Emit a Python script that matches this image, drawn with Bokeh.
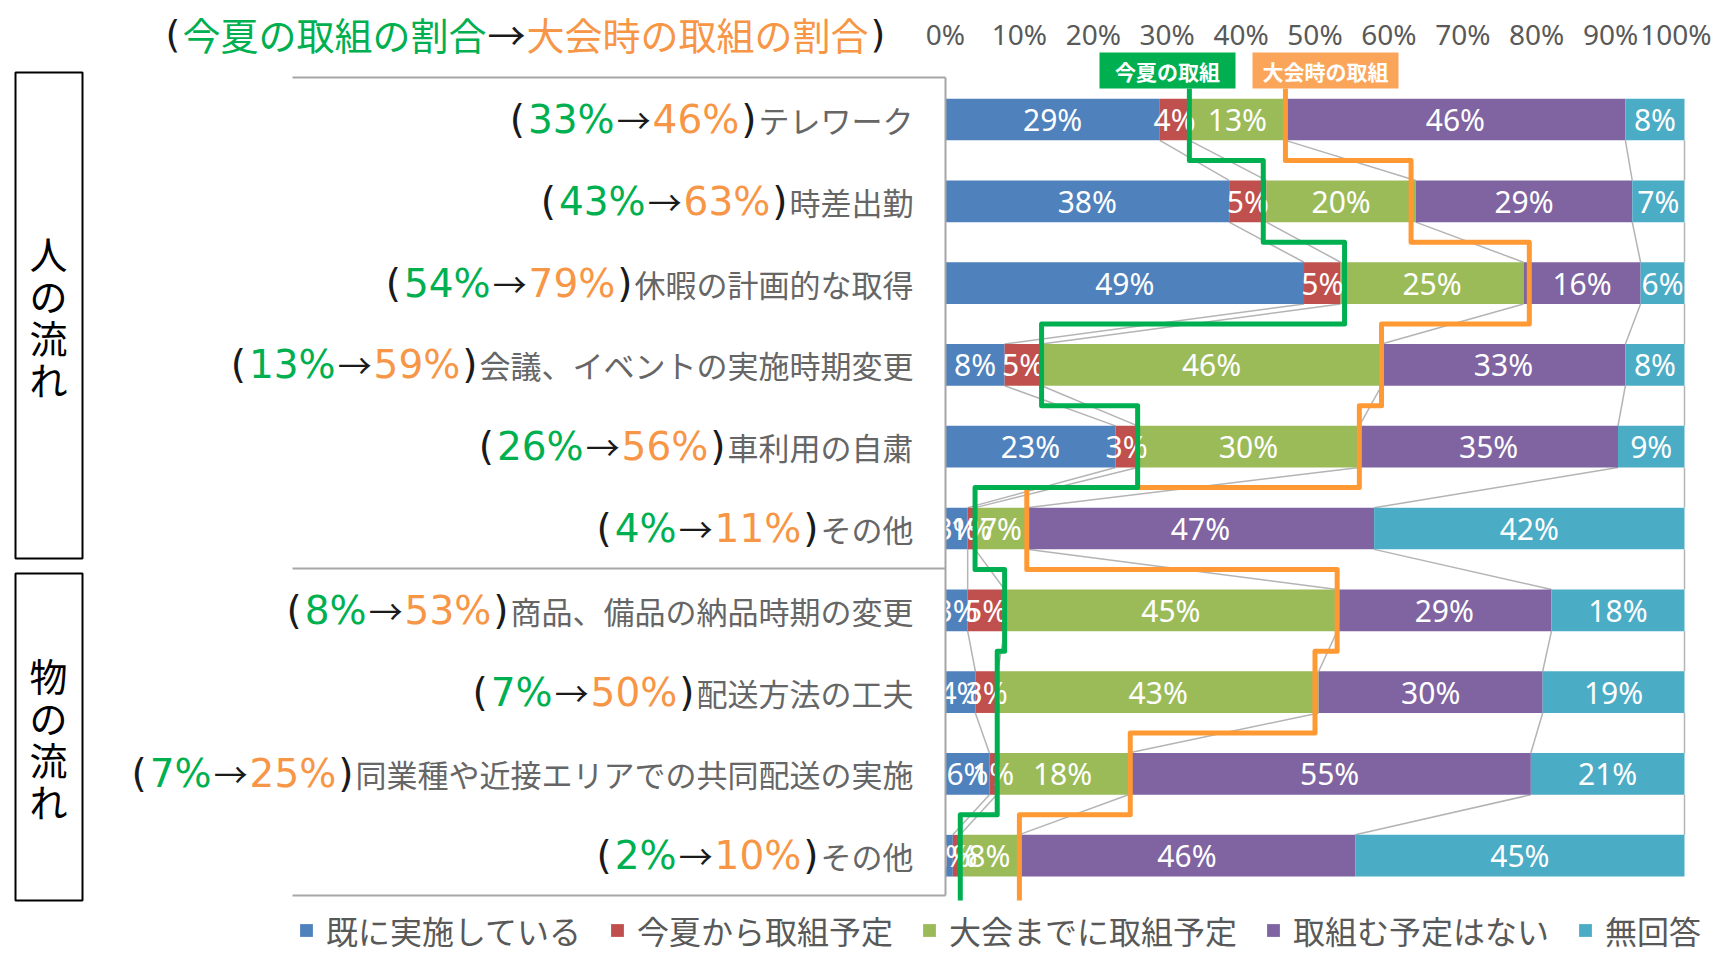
from bokeh.plotting import figure
from bokeh.models import Range1d, ColumnDataSource
from bokeh.core.properties import value
from bokeh.embed import file_html
from bokeh.resources import INLINE

# ---------------- data ----------------
categories = ["テレワーク", "時差出勤", "休暇の計画的な取得", "会議、イベントの実施時期変更",
              "車利用の自粛", "その他", "商品、備品の納品時期の変更", "配送方法の工夫",
              "同業種や近接エリアでの共同配送の実施", "その他"]
already_done = [29, 38, 49, 8, 23, 3, 3, 4, 6, 1]
from_summer = [4, 5, 5, 5, 3, 1, 5, 3, 1, 1]
by_games = [13, 20, 25, 46, 30, 7, 45, 43, 18, 8]
no_plan = [46, 29, 16, 33, 35, 47, 29, 30, 55, 46]
no_answer = [8, 7, 6, 8, 9, 42, 18, 19, 21, 45]
summer_share = [33, 43, 54, 13, 26, 4, 8, 7, 7, 2]
games_share = [46, 63, 79, 59, 56, 11, 53, 50, 25, 10]
series_names = ["既に実施している", "今夏から取組予定", "大会までに取組予定", "取組む予定はない", "無回答"]
series_colors = ["#4F81BD", "#C0504D", "#9BBB59", "#8064A2", "#4BACC6"]
tick_values = [0, 10, 20, 30, 40, 50, 60, 70, 80, 90, 100]
group_names = ["人の流れ", "物の流れ"]
title_parts = ["今夏の取組の割合", "大会時の取組の割合"]
line_names = ["今夏の取組", "大会時の取組"]

# ---------------- layout helpers ----------------
W, H = 1713, 953
PX = 7.39            # pixels per percent
ZERO_PX = 945        # pixel position of 0%
ROW_PX = 81.8        # pixels per row
ROW0_PX = 119        # pixel centre of first row

x_start = -ZERO_PX / PX
x_end = x_start + W / PX


def X(px):
    return x_start + px / PX


def Y(py):
    return (py - ROW0_PX) / ROW_PX


GREEN = "#00B050"
ORANGE_LINE = "#FF9933"
ORANGE_TXT = "#F79646"
GRAY_TXT = "#666666"
DARK = "#1a1a1a"
JP = "Noto Sans CJK JP"

p = figure(width=W, height=H, x_range=Range1d(x_start, x_end),
           y_range=Range1d(Y(H), Y(0)),
           x_axis_location=None, y_axis_location=None,
           toolbar_location=None, output_backend="svg",
           min_border_left=0, min_border_right=0, min_border_bottom=0,
           min_border_top=0, outline_line_color=None,
           background_fill_color="white", border_fill_color="white")
p.grid.visible = False

# percentage scale along the top (last label kept inside the canvas)
TICK_SIZE = 28
tx_c, tt_c, tx_r, tt_r = [], [], [], []
for t in tick_values:
    lab = f"{t}%"
    half = (0.572 * (len(lab) - 1) + 0.84) * TICK_SIZE / 2
    if ZERO_PX + t * PX + half > W - 2:
        tx_r.append(X(W - 2)); tt_r.append(lab)
    else:
        tx_c.append(t); tt_c.append(lab)
for xs, ts, al in [(tx_c, tt_c, "center"), (tx_r, tt_r, "right")]:
    if xs:
        p.text(xs, [Y(33)] * len(xs), text=ts, text_color="#595959",
               text_font=value("Noto Sans"), text_font_size=f"{TICK_SIZE}px",
               text_align=al, text_baseline="middle")

# ---------------- stacked 100% bars ----------------
n = len(categories)
rows = list(range(n))
raw = [already_done, from_summer, by_games, no_plan, no_answer]
keys = ["s0", "s1", "s2", "s3", "s4"]
totals = [sum(r[i] for r in raw) for i in range(n)]
norm = [[r[i] * 100.0 / totals[i] for i in range(n)] for r in raw]
data = {"row": rows}
for k, vals in zip(keys, norm):
    data[k] = vals
src = ColumnDataSource(data)

BAR_H = 0.51

# series lines between bars
cum = []
acc = [0.0] * n
for vals in norm:
    acc = [a + v for a, v in zip(acc, vals)]
    cum.append(acc)
sx0, sy0, sx1, sy1 = [], [], [], []
for c in cum:
    for i in range(n - 1):
        sx0.append(c[i]); sy0.append(i + BAR_H / 2)
        sx1.append(c[i + 1]); sy1.append(i + 1 - BAR_H / 2)
p.segment(sx0, sy0, sx1, sy1, line_color="#B4B4B4", line_width=1.5)

bars = p.hbar_stack(keys, y="row", height=BAR_H, source=src,
                    fill_color=series_colors, line_color=None,
                    legend_label=series_names)

# value labels
lx, ly, lt = [], [], []
left = [0.0] * n
for vals, rvals in zip(norm, raw):
    for i in range(n):
        if rvals[i] > 0:
            lx.append(left[i] + vals[i] / 2)
            ly.append(i)
            lt.append(f"{rvals[i]}%")
    left = [l + v for l, v in zip(left, vals)]
p.text(lx, ly, text=lt, text_color="white", text_font=value("Noto Sans"),
       text_font_size="30px", text_align="center", text_baseline="middle")

# category axis line and group brackets
p.segment([0], [Y(77)], [0], [Y(895)], line_color="#A6A6A6", line_width=2)
for py in (77, 568, 895):
    p.segment([X(292)], [Y(py)], [0], [Y(py)], line_color="#A6A6A6", line_width=2)

# group boxes with vertical text
for (top, bot, cy), name in zip([(72, 558, 315), (573, 900, 737)], group_names):
    p.quad(left=X(15), right=X(82), top=Y(top), bottom=Y(bot),
           fill_color=None, line_color="black", line_width=2)
    m = len(name)
    p.text([X(48)] * m, [Y(cy + (j - (m - 1) / 2) * 42) for j in range(m)],
           text=list(name), text_color="black", text_font=value(JP),
           text_font_size="38px", text_align="center", text_baseline="middle")

# ---------------- row labels ----------------
JP_SIZE = 31
NUM_SIZE = 39
ARROW = 34
RIGHT = 913


def num_w(s):
    return sum(0.95 if ch == "%" else 0.636 for ch in s) * NUM_SIZE


PAREN_W = 0.39 * NUM_SIZE
pieces = {"jp": ([], [], []), "paren": ([], [], []), "g": ([], [], []),
          "o": ([], [], []), "arrow": ([], [], [])}
for i, name in enumerate(categories):
    pieces["jp"][0].append(X(RIGHT)); pieces["jp"][1].append(i); pieces["jp"][2].append(name)
    cur = RIGHT - len(name) * JP_SIZE - 2
    pieces["paren"][0].append(X(cur)); pieces["paren"][1].append(i); pieces["paren"][2].append(")")
    cur -= PAREN_W + 2
    o = f"{games_share[i]}%"
    pieces["o"][0].append(X(cur)); pieces["o"][1].append(i); pieces["o"][2].append(o)
    cur -= num_w(o) + 2
    pieces["arrow"][0].append(X(cur)); pieces["arrow"][1].append(i); pieces["arrow"][2].append("→")
    cur -= ARROW + 2
    g = f"{summer_share[i]}%"
    pieces["g"][0].append(X(cur)); pieces["g"][1].append(i); pieces["g"][2].append(g)
    cur -= num_w(g) + 3
    pieces["paren"][0].append(X(cur)); pieces["paren"][1].append(i); pieces["paren"][2].append("(")

p.text(*pieces["jp"][:2], text=pieces["jp"][2], text_color=GRAY_TXT, text_font=value(JP),
       text_font_size=f"{JP_SIZE}px", text_align="right", text_baseline="middle")
for key, col, font, size in [("paren", DARK, "DejaVu Sans", NUM_SIZE),
                             ("g", GREEN, "DejaVu Sans", NUM_SIZE),
                             ("o", ORANGE_TXT, "DejaVu Sans", NUM_SIZE),
                             ("arrow", DARK, JP, ARROW)]:
    p.text(*pieces[key][:2], text=pieces[key][2], text_color=col,
           text_font=value(font), text_font_size=f"{size}px",
           text_align="right", text_baseline="middle")

# ---------------- step lines ----------------
def step_path(vals):
    xs = [vals[0]]
    ys = [Y(88)]
    for i in range(n - 1):
        xs += [vals[i], vals[i + 1]]
        ys += [i + 0.5, i + 0.5]
    xs.append(vals[-1]); ys.append(Y(900))
    return xs, ys


gx, gy = step_path(summer_share)
ox, oy = step_path(games_share)
p.line(ox, oy, line_color=ORANGE_LINE, line_width=5, line_join="round")
p.line(gx, gy, line_color=GREEN, line_width=5, line_join="round")

# line tags
for (l, r), col, txt in zip([(1099, 1235), (1252, 1398)], [GREEN, "#FBA55A"], line_names):
    p.quad(left=X(l), right=X(r), top=Y(52), bottom=Y(88), fill_color=col, line_color=None)
    p.text([X((l + r) / 2)], [Y(70)], text=[txt], text_color="white", text_font=value(JP),
           text_font_size="21px", text_font_style="bold", text_align="center",
           text_baseline="middle")

# ---------------- title ----------------
TY = Y(33)
T_SIZE = 38
tx = 165
p.text([X(tx)], [TY], text=["("], text_color=DARK, text_font=value("DejaVu Sans"),
       text_font_size="38px", text_align="left", text_baseline="middle")
tx += 17
p.text([X(tx)], [TY], text=[title_parts[0]], text_color=GREEN, text_font=value(JP),
       text_font_size=f"{T_SIZE}px", text_align="left", text_baseline="middle")
tx += len(title_parts[0]) * T_SIZE + 1
p.text([X(tx)], [TY], text=["→"], text_color=DARK, text_font=value(JP),
       text_font_size=f"{T_SIZE}px", text_align="left", text_baseline="middle")
tx += T_SIZE + 1
p.text([X(tx)], [TY], text=[title_parts[1]], text_color=ORANGE_TXT, text_font=value(JP),
       text_font_size=f"{T_SIZE}px", text_align="left", text_baseline="middle")
tx += len(title_parts[1]) * T_SIZE + 2
p.text([X(tx)], [TY], text=[")"], text_color=DARK, text_font=value("DejaVu Sans"),
       text_font_size="38px", text_align="left", text_baseline="middle")

# ---------------- legend ----------------
lg = p.legend[0]
lg.orientation = "horizontal"
lg.location = (298, 0)
lg.label_text_font = JP
lg.label_text_font_size = "32px"
lg.label_text_color = "#595959"
lg.glyph_width = 16
lg.glyph_height = 16
lg.label_standoff = 12
lg.spacing = 28
lg.padding = 0
lg.margin = 0
lg.border_line_color = None
lg.background_fill_alpha = 0

open("out.html", "w").write(file_html(p, INLINE))
